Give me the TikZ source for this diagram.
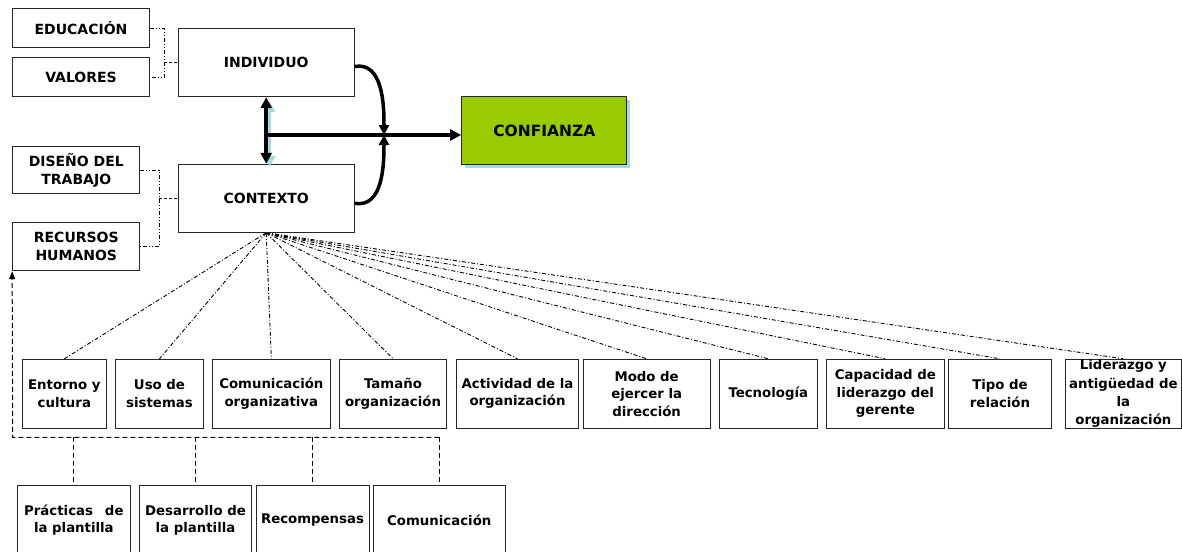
\documentclass[tikz,border=0pt]{standalone}
\usepackage{fontspec}
\setmainfont{DejaVu Sans}
\usetikzlibrary{arrows.meta,shadows,backgrounds}
\definecolor{leaf}{HTML}{99CC00}
\definecolor{haze}{HTML}{A9D9E0}
\tikzset{
  box/.style={draw=black!85, line width=1pt, fill=white, align=center,
    inner sep=0pt, text=black},
  toplabel/.style={box, font=\bfseries\fontsize{14}{17.7}\selectfont},
  factor/.style={box, font=\bfseries\fontsize{13.3}{17.4}\selectfont,
    minimum height=68.7pt},
  practice/.style={box, font=\bfseries\fontsize{13.3}{17.4}\selectfont,
    minimum height=69pt},
  boldlink/.style={line width=3.5pt, black},
  bigtip/.style={-{Triangle[length=11pt,width=11pt]}},
  fanline/.style={line width=0.9pt, dash pattern=on 4pt off 2pt on 1pt off 2pt},
  dotlink/.style={line width=0.8pt, dash pattern=on 4pt off 2pt on 1pt off 2pt on 1pt off 2pt},
  shortdash/.style={line width=0.8pt, dash pattern=on 3pt off 2pt},
  busline/.style={line width=1pt, dash pattern=on 5pt off 3pt},
}
\begin{document}
\begin{tikzpicture}[x=1pt,y=-1pt]
\useasboundingbox (0,0) rectangle (1182,551);

% left column of determinants
\node[toplabel, minimum width=136.6pt, minimum height=38.7pt] (edu) at (81,28.3) {EDUCACIÓN};
\node[toplabel, minimum width=136.6pt, minimum height=39.4pt] (val) at (81,77) {VALORES};
\node[toplabel, minimum width=127.3pt, minimum height=47.3pt] (dis) at (76.3,170.3) {DISEÑO DEL\\TRABAJO};
\node[toplabel, minimum width=127.3pt, minimum height=48pt] (rh) at (76.3,246.7) {RECURSOS\\HUMANOS};

% main blocks
\node[toplabel, minimum width=175.7pt, minimum height=68.4pt] (ind) at (266.2,62.5) {INDIVIDUO};
\node[toplabel, minimum width=175.7pt, minimum height=68pt] (ctx) at (266.2,198.3) {CONTEXTO};
\node[box, fill=leaf, font=\bfseries\fontsize{15.5}{18}\selectfont,
  minimum width=165.3pt, minimum height=68.3pt,
  general shadow={fill=haze, shadow xshift=3pt, shadow yshift=-3pt}]
  (conf) at (544.3,130.8) {CONFIANZA};

% context factors
\node[factor, minimum width=83.3pt]  (f1)  at (64.35,393.65)  {Entorno y\\cultura};
\node[factor, minimum width=87.6pt]  (f2)  at (159.5,393.65)  {Uso de\\sistemas};
\node[factor, minimum width=117.3pt] (f3)  at (271.35,393.65) {Comunicación\\organizativa};
\node[factor, minimum width=107.4pt] (f4)  at (393,393.65)    {Tamaño\\organización};
\node[factor, minimum width=121.6pt] (f5)  at (517.5,393.65)  {Actividad de la\\organización};
\node[factor, minimum width=126.7pt] (f6)  at (646.65,393.65) {Modo de\\ejercer la\\dirección};
\node[factor, minimum width=98pt]    (f7)  at (768.3,393.65)  {Tecnología};
\node[factor, minimum width=117.3pt] (f8)  at (885.35,393.65) {Capacidad de\\liderazgo del\\gerente};
\node[factor, minimum width=102.6pt] (f9)  at (1000,393.65)   {Tipo de\\relación};
\node[factor, minimum width=115.3pt, font=\bfseries\fontsize{13.3}{18.2}\selectfont]
  (f10) at (1123.35,393.65) {Liderazgo y\\antigüedad de\\la\\organización};

% human resources practices
\node[practice, minimum width=112.3pt] (p1) at (73.85,520.2) {Prácticas\hspace{0.9em}de\\la plantilla};
\node[practice, minimum width=112.4pt] (p2) at (195.5,520.2) {Desarrollo de\\la plantilla};
\node[practice, minimum width=113pt]   (p3) at (312.5,520.2) {Recompensas};
\node[practice, minimum width=132pt]   (p4) at (439.3,520.2) {Comunicación};

% page background and the fan of context factors, kept under the boxes
\begin{scope}[on background layer]
  \fill[white] (0,0) rectangle (1182,551);
  \foreach \f in {f1,f2,f3,f4,f5,f6,f7,f8,f9,f10}
    \draw[fanline] (ctx.south) -- (\f.north);
\end{scope}

% brackets joining the determinants to their block
\coordinate (kI) at (164.3,62.5);
\coordinate (kC) at (159.3,198.3);
\draw[dotlink] (edu.east) -| (kI) |- (val.east);
\draw[shortdash] (kI) -- (ind.west);
\draw[dotlink] (dis.east) -| (kC) |- (rh.east);
\draw[shortdash] (kC) -- (ctx.west);

% interaction between individual and context
\draw[haze, line width=3.5pt, {Triangle[length=11pt,width=11pt]}-{Triangle[length=11pt,width=11pt]}]
  ([xshift=3.5pt,yshift=-4pt]ind.south) -- ([xshift=3.5pt,yshift=-3pt]ctx.north);
\draw[boldlink, {Triangle[length=11pt,width=11pt]}-{Triangle[length=11pt,width=11pt]}]
  (ind.south) -- (ctx.north);

% both blocks lead to trust
\coordinate (j) at (384,135);
\draw[boldlink, bigtip] (ind.south |- j) -- (j -| conf.west);
\draw[boldlink, -{Triangle[length=10pt,width=10pt]}]
  ([yshift=-4pt]ind.east) to[out=10,in=90] (j);
\draw[boldlink, -{Triangle[length=10pt,width=10pt]}]
  ([yshift=-5pt]ctx.east) to[out=-10,in=-90] (j);

% bus of human resources practices
\coordinate (busL) at (12.7,437.3);
\draw[busline, -{Triangle[length=8pt,width=6pt]}]
  (p4.north |- busL) -- (busL) -- (rh.south west);
\foreach \p in {p1,p2,p3,p4}
  \draw[busline] (\p.north |- busL) -- (\p.north);
\end{tikzpicture}
\end{document}
